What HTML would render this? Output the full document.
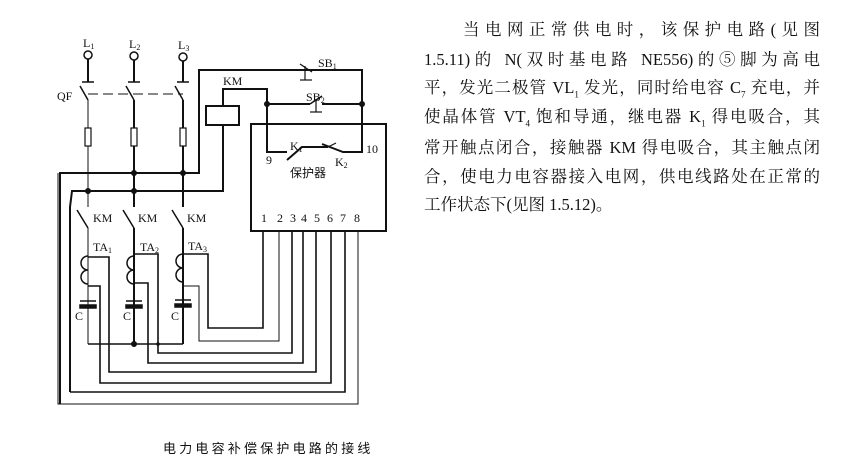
<!DOCTYPE html>
<html><head><meta charset="utf-8"><style>
html,body{margin:0;padding:0;background:#fff;}
body{width:844px;height:476px;position:relative;overflow:hidden;font-family:"Liberation Serif","Noto Serif CJK SC",serif;color:#111;}
.t{position:absolute;left:424px;width:396px;font-size:16.5px;line-height:20px;text-align:justify;text-align-last:justify;white-space:nowrap;}
.cap{position:absolute;left:163px;top:438px;font-size:13px;letter-spacing:3.2px;font-family:"Liberation Sans","Noto Sans CJK SC",sans-serif;}
svg{position:absolute;left:0;top:0;}
</style></head><body>
<svg width="844" height="476" viewBox="0 0 844 476" fill="none" stroke="#111" font-family="Liberation Serif, serif" >
<!-- phases -->
<g stroke-width="1.5">
<circle cx="88" cy="55" r="4"/><circle cx="134" cy="56" r="4"/><circle cx="183" cy="57" r="4"/>
<line x1="88" y1="59" x2="88" y2="82" stroke-width="2"/><line x1="82" y1="82" x2="94" y2="82"/>
<line x1="134" y1="60" x2="134" y2="82" stroke-width="2"/><line x1="128" y1="82" x2="140" y2="82"/>
<line x1="183" y1="61" x2="183" y2="82" stroke-width="2"/><line x1="177" y1="82" x2="189" y2="82"/>
<line x1="80" y1="86" x2="88" y2="100"/><line x1="126" y1="86" x2="134" y2="100"/><line x1="175" y1="86" x2="183" y2="100"/>
<line x1="88" y1="94" x2="183" y2="94" stroke-dasharray="10,5" stroke-width="1"/>
</g>
<g stroke-width="1">
<line x1="88" y1="100" x2="88" y2="207"/><line x1="88" y1="228" x2="88" y2="344"/>
</g>
<g stroke-width="2">
<line x1="134" y1="100" x2="134" y2="207"/><line x1="134" y1="228" x2="134" y2="344"/>
<line x1="183" y1="100" x2="183" y2="207"/><line x1="183" y1="228" x2="183" y2="344"/>
</g>
<g stroke-width="1.2" fill="#fff">
<rect x="85" y="128" width="6" height="18"/><rect x="131" y="128" width="6" height="18"/><rect x="180" y="128" width="6" height="18"/>
</g>
<!-- switches KM -->
<g stroke-width="1.5">
<line x1="77" y1="210" x2="88" y2="228"/><line x1="123" y1="210" x2="134" y2="228"/><line x1="172" y1="210" x2="183" y2="228"/>
</g>
<!-- buses -->
<g stroke-width="2">
<polyline points="60,404 60,173 199,173 199,70 362,70 362,153"/>
<polyline points="70,392 70,207 72,191 223,191 223,125"/>
<polyline points="223,106 223,89 267,89 267,152 287,152"/>
<polyline points="267,104 310,104"/><polyline points="322,104 362,104"/>
<line x1="310" y1="104" x2="322" y2="96" stroke-width="1.5"/>
<rect x="206" y="106" width="33" height="19" stroke-width="2"/>
<polyline points="287,160 302,147 328,147"/>
<polyline points="322,144 343,152 362,152"/>
<rect x="251" y="124" width="135" height="107"/>
</g>
<g stroke-width="1.2">
<line x1="300" y1="64" x2="312" y2="72"/><line x1="305" y1="66" x2="305" y2="80"/><line x1="300" y1="80" x2="312" y2="80"/>
<line x1="316" y1="99" x2="316" y2="112"/><line x1="310" y1="112" x2="322" y2="112"/>
<line x1="328" y1="147" x2="336" y2="143"/>
</g>
<g fill="#111" stroke="none">
<circle cx="134" cy="173" r="3"/><circle cx="183" cy="173" r="3"/><circle cx="88" cy="191" r="3"/><circle cx="134" cy="191" r="3"/>
<circle cx="267" cy="104" r="3"/><circle cx="362" cy="104" r="3"/><circle cx="134" cy="344" r="3"/><circle cx="158" cy="344" r="1.8"/>
</g>
<!-- coils -->
<g stroke-width="1.5">
<path d="M88,256 a7,7 0 0 0 0,14 a7,7 0 0 0 0,14"/>
<path d="M134,256 a7,7 0 0 0 0,14 a7,7 0 0 0 0,14"/>
<path d="M183,254 a7,7 0 0 0 0,14 a7,7 0 0 0 0,14"/>
</g>
<!-- caps -->
<g stroke-width="1.5" fill="#fff">
<line x1="80" y1="301" x2="96" y2="301"/><rect x="80" y="305" width="16" height="3" fill="#111"/>
<line x1="126" y1="301" x2="142" y2="301"/><rect x="126" y="305" width="16" height="3" fill="#111"/>
<line x1="175" y1="300" x2="191" y2="300"/><rect x="175" y="304" width="16" height="3" fill="#111"/>
</g>
<!-- pin wiring -->
<g stroke-width="1.6">
<polyline points="263,231 263,328 208,328 208,254 183,254"/>
<polyline points="279,231 279,341 199,341 199,286 183,286" stroke-width="1"/>
<polyline points="292,231 292,353 158,353 158,254 134,254"/>
<polyline points="303,231 303,363 148,363 148,283 134,283"/>
<polyline points="316,231 316,372 109,372 109,257 88,257"/>
<polyline points="331,231 331,383 100,383 100,286 88,286"/>
<polyline points="345,231 345,392 70,392"/>
<polyline points="358,231 358,404 58,404 58,173" stroke-width="1"/>
<line x1="88" y1="344" x2="183" y2="344"/>
</g>
<g fill="#111" stroke="none" font-size="12">
<text x="83" y="47">L<tspan font-size="8" dy="2">1</tspan></text>
<text x="129" y="48">L<tspan font-size="8" dy="2">2</tspan></text>
<text x="178" y="49">L<tspan font-size="8" dy="2">3</tspan></text>
<text x="57" y="100">QF</text>
<text x="223" y="85">KM</text>
<text x="318" y="67">SB<tspan font-size="8" dy="2">1</tspan></text>
<text x="306" y="101">SB<tspan font-size="8" dy="2">2</tspan></text>
<text x="290" y="150">K<tspan font-size="8" dy="2">1</tspan></text>
<text x="335" y="166">K<tspan font-size="8" dy="2">2</tspan></text>
<text x="266" y="164">9</text><text x="366" y="153">10</text>
<text x="290" y="177" font-family="Noto Sans CJK SC, sans-serif" font-size="12">保护器</text>
<text x="261" y="222">1</text><text x="277" y="222">2</text><text x="290" y="222">3</text><text x="301" y="222">4</text>
<text x="314" y="222">5</text><text x="327" y="222">6</text><text x="340" y="222">7</text><text x="354" y="222">8</text>
<text x="93" y="222">KM</text><text x="138" y="222">KM</text><text x="187" y="222">KM</text>
<text x="93" y="251">TA<tspan font-size="8" dy="2">1</tspan></text>
<text x="140" y="251">TA<tspan font-size="8" dy="2">2</tspan></text>
<text x="188" y="250">TA<tspan font-size="8" dy="2">3</tspan></text>
<text x="75" y="320">C</text><text x="123" y="320">C</text><text x="171" y="320">C</text>
</g>
</svg>
<div class="t" style="top:20px;left:463px;width:357px;">当电网正常供电时，该保护电路(见图</div>
<div class="t" style="top:50px;">1.5.11)的 N(双时基电路 NE556)的⑤脚为高电</div>
<div class="t" style="top:78px;">平，发光二极管 VL<sub style="font-size:9px">1</sub> 发光，同时给电容 C<sub style="font-size:9px">7</sub> 充电，并</div>
<div class="t" style="top:107px;">使晶体管 VT<sub style="font-size:9px">4</sub> 饱和导通，继电器 K<sub style="font-size:9px">1</sub> 得电吸合，其</div>
<div class="t" style="top:138px;">常开触点闭合，接触器 KM 得电吸合，其主触点闭</div>
<div class="t" style="top:167px;">合，使电力电容器接入电网，供电线路处在正常的</div>
<div class="t" style="top:195px;text-align-last:left;">工作状态下(见图 1.5.12)。</div>
<div class="cap">电力电容补偿保护电路的接线</div>
</body></html>
